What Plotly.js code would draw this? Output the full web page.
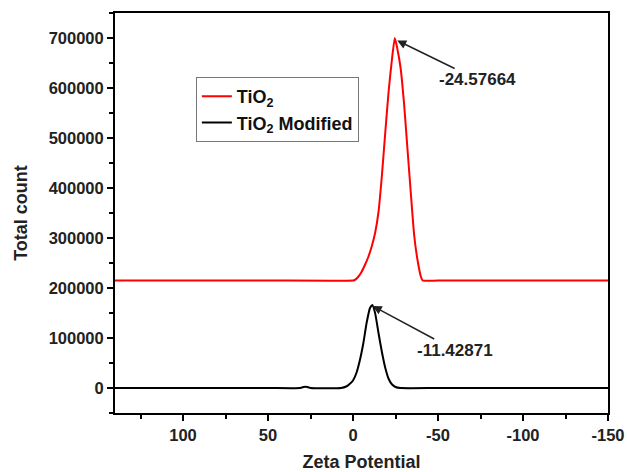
<!DOCTYPE html>
<html>
<head>
<meta charset="utf-8">
<script src="https://cdn.plot.ly/plotly-3.0.1.min.js"></script>
<style>html,body{margin:0;padding:0;background:#fff;}#chart{width:627px;height:472px;}</style>
</head>
<body>
<div id="chart"></div>
<script>
// Zeta potential (mV) and total counts
const tio2X = [140, 100, 50, 0, -1, -3, -5, -7, -9, -11, -13, -15, -17, -19, -21, -23, -24.6, -26, -28, -30, -32, -34, -36, -38, -40, -41, -50, -100, -150];
const tio2Y = [215000, 215000, 215000, 215000, 216000, 222000, 232000, 246000, 262000, 283000, 310000, 352000, 425000, 512000, 595000, 660000, 700000, 680000, 640000, 570000, 480000, 390000, 305000, 255000, 222000, 215000, 215000, 215000, 215000];

const modX = [140, 100, 50, 31, 29, 28, 27, 25, 7, 4, 2, 0, -2, -4, -6, -8, -10, -11.4, -13, -15, -17, -19, -21, -23, -25, -28, -50, -100, -150];
const modY = [0, 0, 0, 0, 2000, 2500, 2000, 0, 0, 3000, 8000, 15000, 30000, 55000, 88000, 130000, 160000, 166000, 150000, 110000, 72000, 40000, 18000, 7000, 2000, 0, 0, 0, 0];

const seriesNames = ['TiO<sub>2</sub>', 'TiO<sub>2</sub> Modified'];
const xTickVals = [100, 50, 0, -50, -100, -150];
const xTickText = ['100', '50', '0', '-50', '-100', '-150'];
const yTickVals = [0, 100000, 200000, 300000, 400000, 500000, 600000, 700000];
const yTickText = ['0', '100000', '200000', '300000', '400000', '500000', '600000', '700000'];
const peakLabels = ['-24.57664', '-11.42871'];
const peakX = [-26, -11.6];
const peakY = [695000, 164000];

const fontFam = 'Liberation Sans, Arial, sans-serif';

const traces = [
  {x: tio2X, y: tio2Y, mode: 'lines', name: seriesNames[0], line: {color: '#ff0000', width: 2, shape: 'spline', smoothing: 0.5}},
  {x: modX, y: modY, mode: 'lines', name: seriesNames[1], line: {color: '#000000', width: 2, shape: 'spline', smoothing: 0.5}}
];

const axisCommon = {
  showgrid: false, zeroline: false,
  showline: true, linecolor: '#000', linewidth: 2, mirror: true,
  ticks: 'outside', ticklen: 6, tickwidth: 2, tickcolor: '#000',
  tickfont: {family: fontFam, size: 16.5, color: '#222', weight: 'bold'}
};

const layout = {
  width: 627, height: 472,
  margin: {l: 115, r: 19, t: 13, b: 59},
  paper_bgcolor: '#fff', plot_bgcolor: '#fff',
  showlegend: true,
  legend: {
    x: 0.164, y: 0.84, xanchor: 'left', yanchor: 'top',
    bgcolor: '#fff', bordercolor: '#777', borderwidth: 1,
    font: {family: fontFam, size: 18, color: '#111', weight: 'bold'},
    tracegroupgap: 0
  },
  xaxis: Object.assign({}, axisCommon, {
    range: [140, -150], autorange: false,
    tickmode: 'array', tickvals: xTickVals, ticktext: xTickText,
    minor: {dtick: 25, tick0: 0, ticks: 'outside', ticklen: 4, tickwidth: 2, tickcolor: '#000'},
    title: {text: 'Zeta Potential', font: {family: fontFam, size: 18, color: '#222', weight: 'bold'}, standoff: 13}
  }),
  yaxis: Object.assign({}, axisCommon, {
    range: [-50000, 750000], autorange: false,
    tickmode: 'array', tickvals: yTickVals, ticktext: yTickText,
    minor: {dtick: 50000, tick0: 0, ticks: 'outside', ticklen: 4, tickwidth: 2, tickcolor: '#000'},
    title: {text: 'Total count', font: {family: fontFam, size: 18, color: '#222', weight: 'bold'}, standoff: 16}
  }),
  annotations: [
    {x: peakX[0], y: peakY[0], xref: 'x', yref: 'y', text: peakLabels[0], showarrow: true,
     ax: 80, ay: 39, arrowhead: 2, arrowsize: 1.2, arrowwidth: 1.5, arrowcolor: '#222', standoff: 0,
     font: {family: fontFam, size: 17, color: '#222', weight: 'bold'}},
    {x: peakX[1], y: peakY[1], xref: 'x', yref: 'y', text: peakLabels[1], showarrow: true,
     ax: 82, ay: 44, arrowhead: 2, arrowsize: 1.2, arrowwidth: 1.5, arrowcolor: '#222', standoff: 0,
     font: {family: fontFam, size: 17, color: '#222', weight: 'bold'}}
  ]
};

Plotly.newPlot('chart', traces, layout, {displayModeBar: false, staticPlot: true});
</script>
</body>
</html>
